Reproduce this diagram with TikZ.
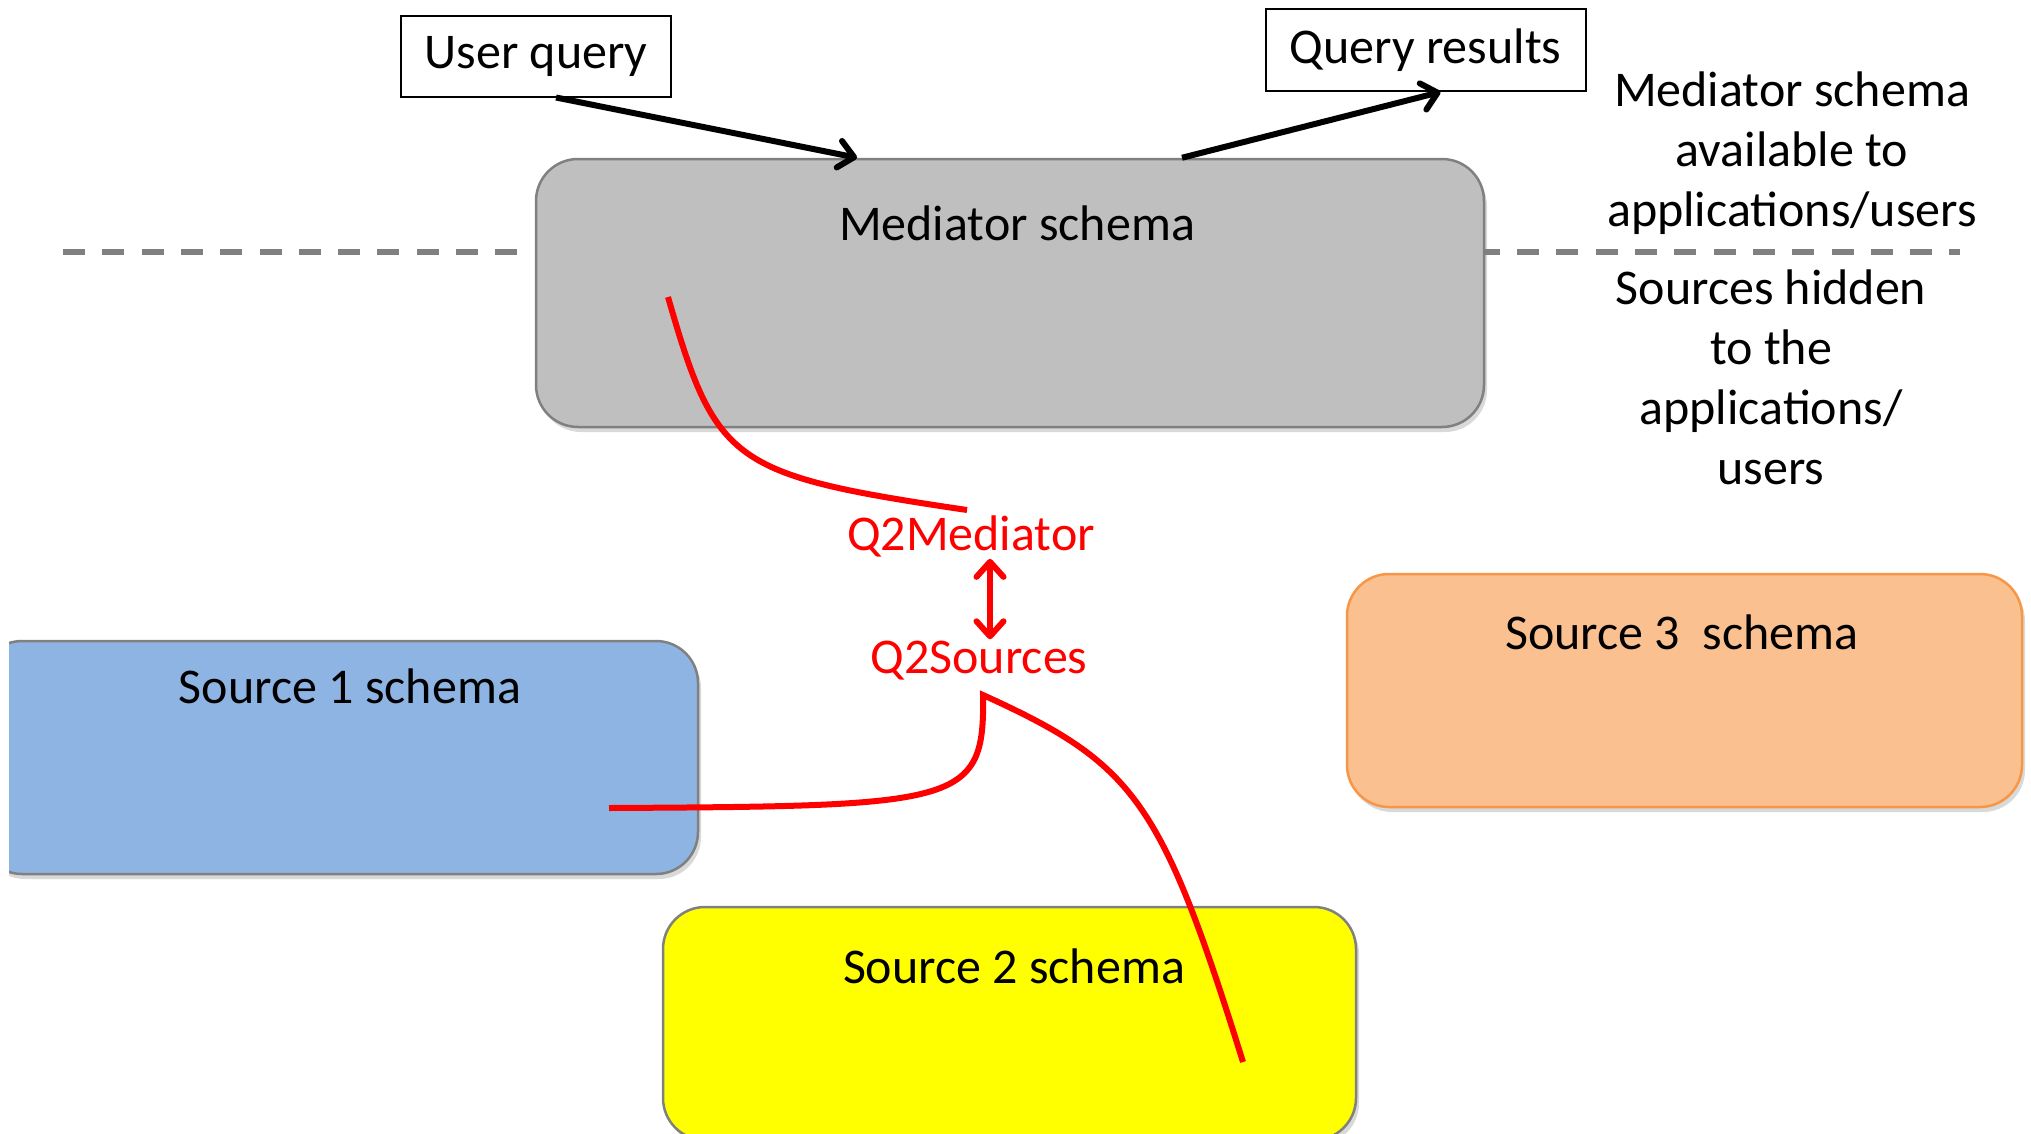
\documentclass[tikz,border=0pt]{standalone}
\usepackage{fontspec}
\setmainfont{Carlito}
\usetikzlibrary{arrows.meta,shadows}

\definecolor{medgray}{HTML}{BFBFBF}
\definecolor{edgegray}{HTML}{808080}
\definecolor{srcblue}{HTML}{8EB4E3}
\definecolor{srcyellow}{HTML}{FFFF00}
\definecolor{srcorange}{HTML}{FAC090}
\definecolor{orangeedge}{HTML}{F79646}

\begin{document}
\begin{tikzpicture}[x=1pt,y=-1pt,
    font=\fontsize{50pt}{60pt}\selectfont,
    schema/.style={draw=edgegray,line width=2.5pt,rounded corners=42pt,inner sep=0pt,
        drop shadow={shadow xshift=3pt,shadow yshift=-5pt,opacity=0.3}},
    txt/.style={inner sep=2pt,align=center},
    qbox/.style={draw,line width=2pt,inner sep=0pt},
    flow/.style={line width=6pt,-{Straight Barb[length=15pt,width=27pt,round]}},
    redline/.style={red,line width=6pt}]
    \useasboundingbox (0,0) rectangle (2031,1133);
    \clip (9,0) rectangle (2031,1133);

    % border between what users see and what is hidden
    \draw[edgegray,line width=6pt,dash pattern=on 22pt off 17.3pt] (63,252) -- (1960,252);

    \node[schema,fill=medgray,minimum width=948pt,minimum height=268pt] (med) at (1010,293) {};
    \node[txt] (medtxt) at (1017,223) {Mediator schema};

    \node[schema,fill=srcblue,minimum width=718pt,minimum height=233pt] (src1) at (339,757.5) {};
    \node[txt] (src1txt) at (350,686) {Source 1 schema};

    \node[schema,fill=srcyellow,minimum width=693pt,minimum height=233pt] (src2) at (1009.5,1023.5) {};
    \node[txt] (src2txt) at (1014,966) {Source 2 schema};

    \node[schema,draw=orangeedge,fill=srcorange,minimum width=675pt,minimum height=233pt] (src3) at (1684.5,690.5) {};
    \node[txt] (src3txt) at (1682,632) {Source 3\ \ schema};

    \node[qbox,minimum width=270pt,minimum height=81pt] (uq) at (536,56) {User query};
    \node[qbox,minimum width=320pt,minimum height=82pt] (qr) at (1425.5,50) {Query results};

    \node[txt] (avail) at (1792,153) {Mediator schema\\available to\\applications/users};
    \node[txt] (hidden) at (1771,377) {Sources hidden\\to the\\applications/\\users};

    \node[txt,red] (q2m) at (971,536) {Q2Mediator};
    \node[txt,red] (q2s) at (979,661) {Q2Sources};

    \draw[flow] ([xshift=20pt]uq.south) -- ([xshift=-153pt]med.north);
    \draw[flow] ([xshift=172pt]med.north) -- ([xshift=15pt]qr.south);

    % query rewriting
    \coordinate (m1) at ([xshift=-342pt,yshift=-4pt]med.center);
    \coordinate (m2) at ([xshift=-4pt,yshift=26pt]q2m.center);
    \coordinate (s1) at ([xshift=270pt,yshift=-50.5pt]src1.center);
    \coordinate (cusp) at ([xshift=4pt,yshift=-34pt]q2s.center);
    \coordinate (s2) at ([xshift=233.5pt,yshift=-38.5pt]src2.center);
    \draw[redline] (m1) .. controls +(48,167) and +(-236,-35) .. (m2);
    \draw[redline,{Straight Barb[length=15pt,width=27pt,round]}-{Straight Barb[length=15pt,width=27pt,round]}]
        ([xshift=19pt]q2m.south) -- ([xshift=19pt]q2m.south |- q2s.north);
    \draw[redline] (s1) .. controls +(351,-2) and +(2,110) .. (cusp)
        .. controls +(152,69) and +(-82,-262) .. (s2);
\end{tikzpicture}
\end{document}
